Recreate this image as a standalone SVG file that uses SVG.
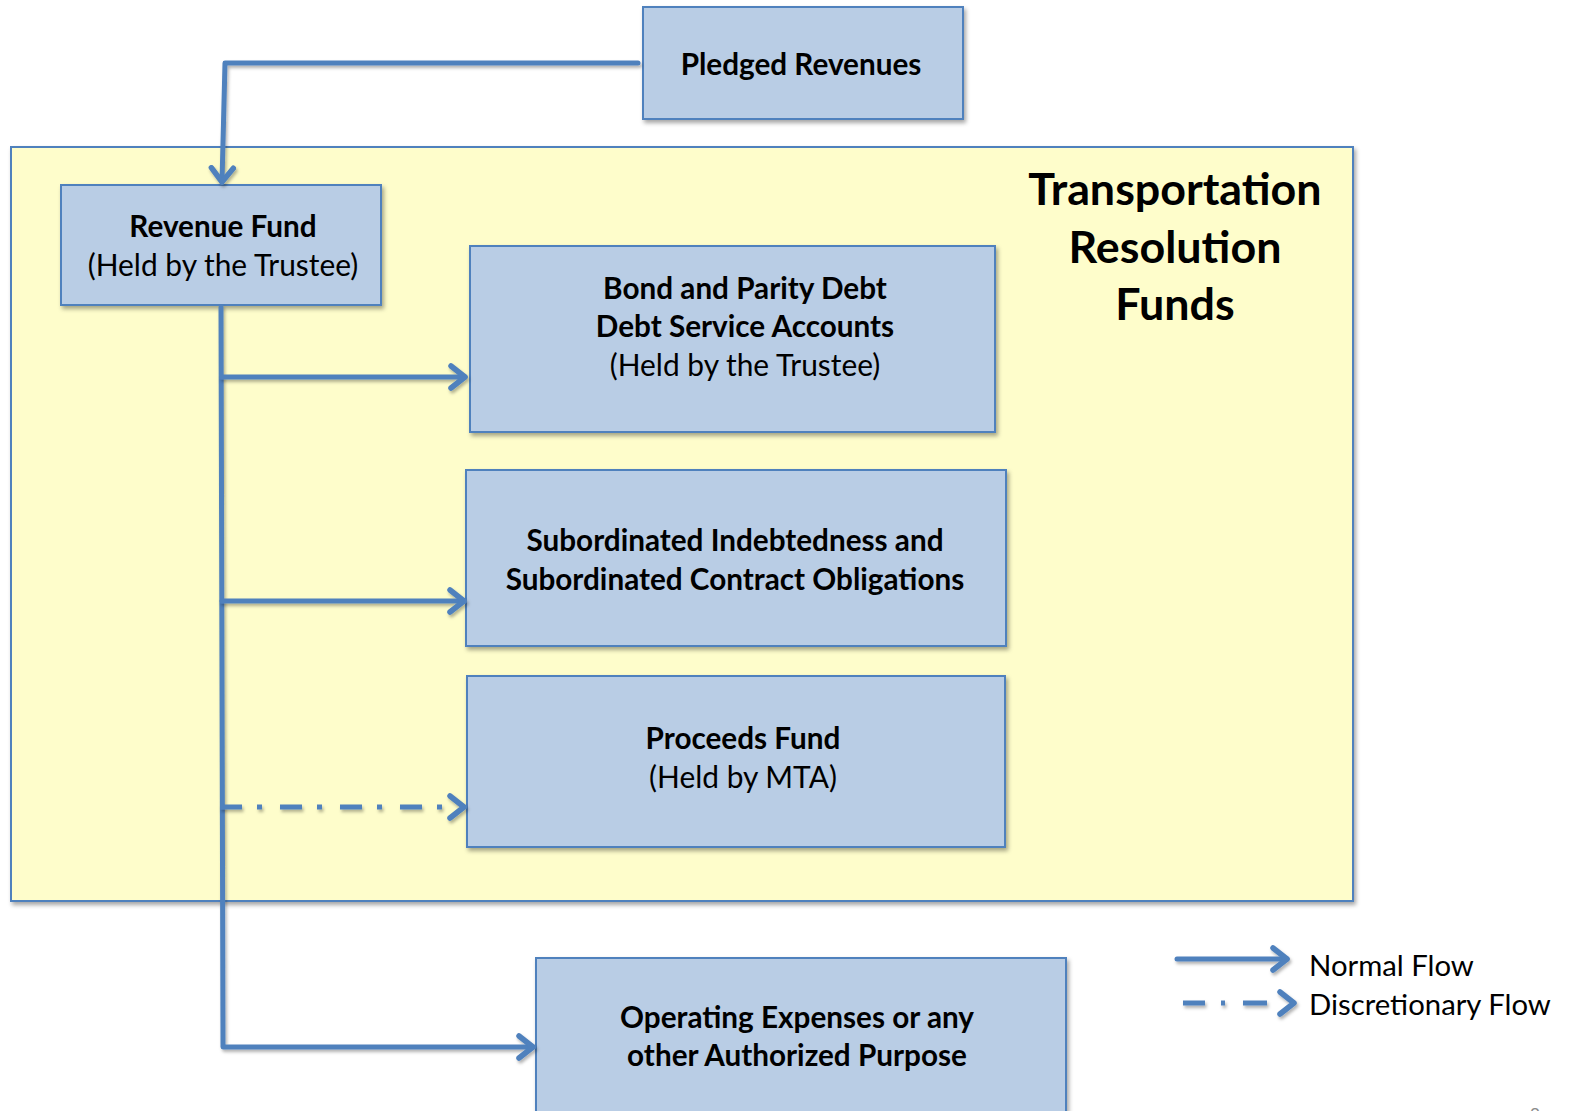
<svg xmlns="http://www.w3.org/2000/svg" width="1570" height="1111" viewBox="0 0 1570 1111">
  <defs>
    <filter id="shadow" x="-10%" y="-10%" width="120%" height="130%">
      <feDropShadow dx="2" dy="3" stdDeviation="2" flood-color="#000" flood-opacity="0.35"/>
    </filter>
    <!-- line shadow uses a fixed region so straight horizontal/vertical paths still render -->
    <filter id="lineShadow" filterUnits="userSpaceOnUse" x="0" y="0" width="1570" height="1111">
      <feDropShadow dx="1.5" dy="2.5" stdDeviation="1.5" flood-color="#000" flood-opacity="0.3"/>
    </filter>
    <marker id="chev" viewBox="0 0 20 28" refX="17" refY="14" markerWidth="20" markerHeight="28" markerUnits="userSpaceOnUse" orient="auto">
      <path d="M3,3 L17,14 L3,25" fill="none" stroke="#4F81BD" stroke-width="5.5" stroke-linecap="round" stroke-linejoin="round"/>
    </marker>
    <style>
      .box { fill: #B9CDE5; stroke: #4F81BD; stroke-width: 2; filter: url(#shadow); }
      .frame { fill: #FEFDCB; stroke: #4F81BD; stroke-width: 2; filter: url(#shadow); }
      .flow { fill: none; stroke: #4F81BD; stroke-width: 5; stroke-linecap: round; stroke-linejoin: round; filter: url(#lineShadow); }
      .disc { stroke-dasharray: 22 15 5 18; stroke-linecap: butt; }
      .b { font-family: Lato, "Liberation Sans", sans-serif; font-weight: bold; font-size: 29.7px; fill: #000; text-anchor: middle; }
      .r { font-family: Lato, "Liberation Sans", sans-serif; font-size: 29.9px; fill: #000; text-anchor: middle; }
      .title { font-family: Lato, "Liberation Sans", sans-serif; font-weight: bold; font-size: 44.8px; fill: #000; text-anchor: middle; }
      .legend { font-family: Lato, "Liberation Sans", sans-serif; font-size: 29.3px; fill: #000; }
    </style>
  </defs>

  <!-- outer fund container -->
  <g id="resolution-funds">
    <rect class="frame" x="11" y="147" width="1342" height="754"/>
    <text class="title" x="1175" y="205">Transportation</text>
    <text class="title" x="1175" y="263">Resolution</text>
    <text class="title" x="1175" y="320">Funds</text>
  </g>

  <g id="pledged-revenues">
    <rect class="box" x="643" y="7" width="320" height="112"/>
    <text class="b" x="801" y="75">Pledged Revenues</text>
  </g>

  <g id="revenue-fund">
    <rect class="box" x="61" y="185" width="320" height="120"/>
    <text class="b" x="223" y="237">Revenue Fund</text>
    <text class="r" x="223" y="276">(Held by the Trustee)</text>
  </g>

  <g id="debt-service">
    <rect class="box" x="470" y="246" width="525" height="186"/>
    <text class="b" x="745" y="299">Bond and Parity Debt</text>
    <text class="b" x="745" y="337">Debt Service Accounts</text>
    <text class="r" x="745" y="376">(Held by the Trustee)</text>
  </g>

  <g id="subordinated">
    <rect class="box" x="466" y="470" width="540" height="176"/>
    <text class="b" x="735" y="551">Subordinated Indebtedness and</text>
    <text class="b" x="735" y="590">Subordinated Contract Obligations</text>
  </g>

  <g id="proceeds-fund">
    <rect class="box" x="467" y="676" width="538" height="171"/>
    <text class="b" x="743" y="749">Proceeds Fund</text>
    <text class="r" x="743" y="788">(Held by MTA)</text>
  </g>

  <g id="operating">
    <rect class="box" x="536" y="958" width="530" height="170"/>
    <text class="b" x="797" y="1028">Operating Expenses or any</text>
    <text class="b" x="797" y="1066">other Authorized Purpose</text>
  </g>

  <g id="connectors">
    <path class="flow" d="M638,63 L225,63 L222,182" marker-end="url(#chev)"/>
    <path class="flow" d="M221,307 L223,1047 L533,1047" marker-end="url(#chev)"/>
    <path class="flow" d="M222,377 L465,377" marker-end="url(#chev)"/>
    <path class="flow" d="M222,601 L464,601" marker-end="url(#chev)"/>
    <path class="flow disc" d="M220,807 L464,807" marker-end="url(#chev)"/>
  </g>

  <g id="legend">
    <path class="flow" d="M1177,959 L1287,959" marker-end="url(#chev)"/>
    <path class="flow disc" d="M1183,1003 L1294,1003" style="stroke-dasharray: 22 16 4 18 24 40" marker-end="url(#chev)"/>
    <text class="legend" x="1309" y="976">Normal Flow</text>
    <text class="legend" x="1309" y="1015">Discretionary Flow</text>
  </g>

  <text x="1535" y="1121" font-family="Lato, 'Liberation Sans', sans-serif" font-size="18" fill="#8C8C8C" text-anchor="middle">8</text>
</svg>
